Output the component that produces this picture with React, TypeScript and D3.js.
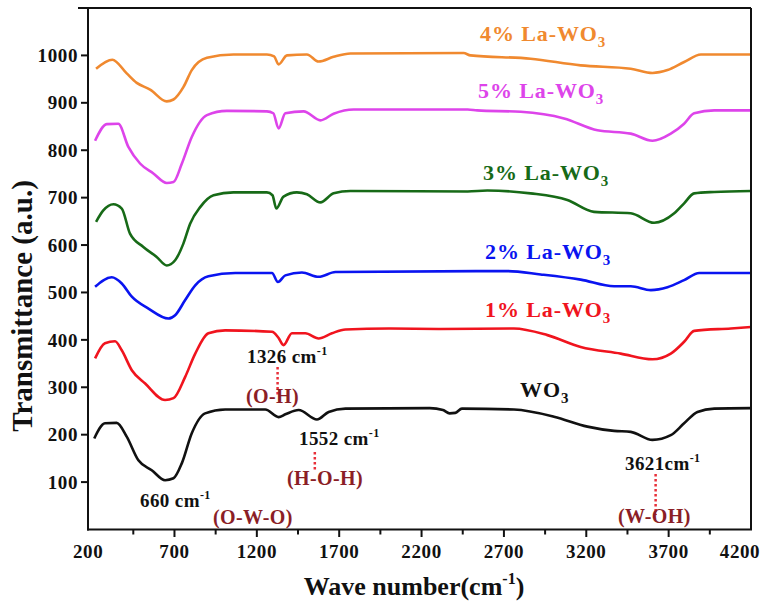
import React from "react";
import * as d3 from "d3";

const xTicksMajor = [200, 700, 1200, 1700, 2200, 2700, 3200, 3700, 4200];
const xTicksMinor = [450, 950, 1450, 1950, 2450, 2950, 3450, 3950];
const yTicks = [100, 200, 300, 400, 500, 600, 700, 800, 900, 1000];

const series4 = [[224,972],[323,991],[410,962],[471,942],[552,928],[653,903],[694,907],[754,933],[805,969],[897,995],[1058,1002],[1261,1002],[1305,998],[1332,981],[1383,1000],[1504,1002],[1575,987],[1666,997],[1768,1004],[2455,1005],[2497,1000],[2862,993],[3166,979],[3470,972],[3602,963],[3693,969],[3794,986],[3896,1002],[4200,1002]];
const series5 = [[218,820],[289,855],[359,856],[420,807],[491,772],[572,751],[653,731],[694,733],[745,772],[805,828],[897,874],[1018,883],[1261,882],[1300,878],[1332,846],[1373,878],[1484,882],[1586,863],[1666,877],[1788,886],[2480,886],[2538,884],[2802,881],[3065,867],[3268,842],[3470,835],[3602,820],[3713,835],[3794,856],[3855,878],[3977,884],[4200,884]];
const series3 = [[224,649],[268,673],[329,686],[380,677],[430,624],[511,596],[592,575],[653,557],[704,568],[754,603],[795,645],[856,680],[937,705],[1058,711],[1261,711],[1295,705],[1318,677],[1362,702],[1443,711],[1504,707],[1586,690],[1666,709],[1768,714],[2480,713],[2599,715],[2862,709],[3085,695],[3247,670],[3470,667],[3612,647],[3734,667],[3794,688],[3855,709],[3977,712],[4200,714]];
const series2 = [[218,512],[319,532],[380,519],[441,491],[542,466],[663,445],[704,452],[765,484],[826,515],[906,534],[1069,541],[1292,541],[1328,522],[1373,536],[1474,542],[1575,533],[1677,543],[2723,545],[2923,538],[3166,527],[3369,513],[3470,513],[3592,505],[3693,511],[3794,526],[3886,541],[4200,541]];
const series1 = [[218,361],[278,393],[339,397],[380,378],[441,336],[522,308],[643,273],[694,277],[765,322],[826,371],[906,414],[1008,420],[1292,417],[1330,405],[1362,389],[1413,414],[1494,414],[1575,403],[1656,414],[1738,422],[2000,424],[2315,423],[2761,424],[2964,410],[3166,385],[3409,371],[3602,359],[3713,371],[3794,396],[3855,419],[4078,424],[4200,427]];
const seriesWO3 = [[213,192],[278,224],[349,225],[410,196],[481,146],[562,125],[643,104],[694,108],[745,140],[805,203],[886,245],[1008,253],[1251,253],[1332,237],[1373,243],[1454,252],[1565,232],[1636,248],[1738,255],[2250,256],[2330,252],[2370,245],[2405,246],[2445,255],[2761,253],[3004,238],[3207,217],[3369,208],[3470,206],[3602,189],[3713,199],[3794,224],[3875,248],[3977,255],[4200,256]];

const seriesList = [
  { name: "4% La-WO", data: series4, color: "#F0892F", lx: 480, ly: 41 },
  { name: "5% La-WO", data: series5, color: "#DD44EA", lx: 478, ly: 98 },
  { name: "3% La-WO", data: series3, color: "#176A17", lx: 483, ly: 180 },
  { name: "2% La-WO", data: series2, color: "#0A14F0", lx: 485, ly: 259 },
  { name: "1% La-WO", data: series1, color: "#F0141E", lx: 485, ly: 317 },
  { name: "WO", data: seriesWO3, color: "#111111", lx: 520, ly: 397 },
];

const FONT = "'Liberation Serif', 'Times New Roman', serif";
const DARKRED = "#8B1E26";

export default function App() {
  const x = d3.scaleLinear().domain([175, 4200]).range([88, 751]);
  const y = d3.scaleLinear().domain([0, 1100]).range([529.5, 8]);
  const line = d3
    .line<number[]>()
    .x((d) => x(d[0]))
    .y((d) => y(d[1]))
    .curve(d3.curveMonotoneX);

  const annText = (tx: number, ty: number, main: string, sup: string) => (
    <text x={tx} y={ty} fontFamily={FONT} fontWeight="bold" fontSize={19} fill="#111" letterSpacing={0.4}>
      {main}
      <tspan dy={-8} fontSize={12}>{sup}</tspan>
    </text>
  );
  const bondText = (tx: number, ty: number, s: string) => (
    <text x={tx} y={ty} fontFamily={FONT} fontWeight="bold" fontSize={20} fill={DARKRED} letterSpacing={0.4}>
      {s}
    </text>
  );
  const dotted = (wx: number, y1: number, y2: number) => (
    <line x1={x(wx)} x2={x(wx)} y1={y1} y2={y2} stroke="#E8303A" strokeWidth={2.5} strokeDasharray="2.5,2.5" />
  );

  return (
    <svg width={762} height={605} style={{ position: "absolute", left: 0, top: 0, background: "#fff" }}>
      <rect x={0} y={0} width={762} height={605} fill="#fff" />
      {seriesList.map((s) => (
        <path key={s.name + s.color} d={line(s.data) || ""} fill="none" stroke={s.color} strokeWidth={2.6} strokeLinejoin="round" />
      ))}
      <line x1={78} x2={751} y1={8} y2={8} stroke="#111" strokeWidth={2} />
      <line x1={751} x2={751} y1={8} y2={529.5} stroke="#111" strokeWidth={2} />
      <line x1={88} x2={88} y1={8} y2={530.5} stroke="#111" strokeWidth={2} />
      <line x1={87} x2={752} y1={529.5} y2={529.5} stroke="#111" strokeWidth={2} />
      {yTicks.map((t) => (
        <g key={"y" + t}>
          <line x1={81} x2={88} y1={y(t)} y2={y(t)} stroke="#111" strokeWidth={2} />
          <text x={78} y={y(t)} dy="0.35em" textAnchor="end" fontFamily={FONT} fontWeight="bold" fontSize={19} fill="#111" letterSpacing={0.6}>
            {t}
          </text>
        </g>
      ))}
      {xTicksMajor.map((t) => (
        <g key={"x" + t}>
          {t > 200 && t < 4200 && <line x1={x(t)} x2={x(t)} y1={529.5} y2={537} stroke="#111" strokeWidth={2} />}
          <text
            x={x(t) - (t === 200 ? 4 : t === 4200 ? 11 : 0)}
            y={558}
            textAnchor="middle"
            fontFamily={FONT}
            fontWeight="bold"
            fontSize={19}
            fill="#111"
            letterSpacing={0.6}
          >
            {t}
          </text>
        </g>
      ))}
      {xTicksMinor.map((t) => (
        <line key={"m" + t} x1={x(t)} x2={x(t)} y1={529.5} y2={534.5} stroke="#111" strokeWidth={2} />
      ))}
      <text transform="translate(32,306) rotate(-90)" textAnchor="middle" fontFamily={FONT} fontWeight="bold" fontSize={29} fill="#111">
        Transmittance (a.u.)
      </text>
      <text x={414} y={595} textAnchor="middle" fontFamily={FONT} fontWeight="bold" fontSize={26} fill="#111">
        Wave number(cm<tspan dy={-11} fontSize={16}>-1</tspan>
        <tspan dy={11}>)</tspan>
      </text>
      {seriesList.map((s) => (
        <text key={"l" + s.name + s.color} x={s.lx} y={s.ly} fontFamily={FONT} fontWeight="bold" fontSize={22} fill={s.color} letterSpacing={0.9}>
          {s.name}
          <tspan dy={6} fontSize={15}>3</tspan>
        </text>
      ))}
      {annText(247, 363, "1326 cm", "-1")}
      {dotted(1326, 367, 396)}
      {bondText(246, 403, "(O-H)")}
      {annText(299, 445, "1552 cm", "-1")}
      {dotted(1552, 452, 472)}
      {bondText(287, 485, "(H-O-H)")}
      {annText(140, 507, "660 cm", "-1")}
      {bondText(213, 524, "(O-W-O)")}
      {annText(625, 470, "3621cm", "-1")}
      {dotted(3621, 474, 515)}
      {bondText(618, 523, "(W-OH)")}
    </svg>
  );
}
